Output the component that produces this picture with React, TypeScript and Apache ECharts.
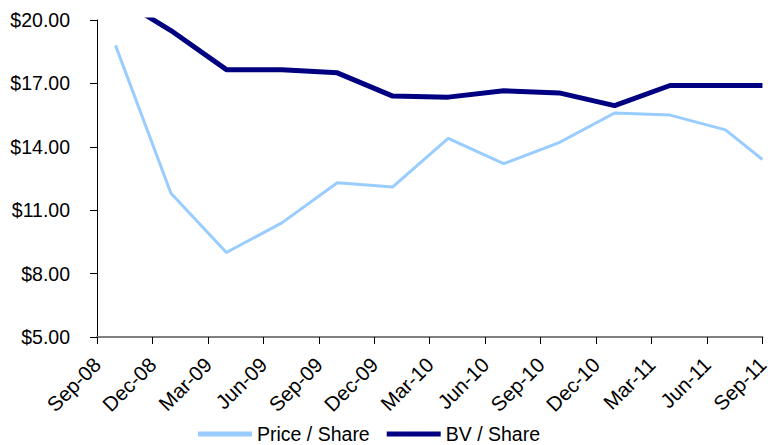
import React, { useEffect, useRef } from "react";
import * as echarts from "echarts";

const tickLabels = ["Sep-08","Dec-08","Mar-09","Jun-09","Sep-09","Dec-09","Mar-10","Jun-10","Sep-10","Dec-10","Mar-11","Jun-11","Sep-11"];
// x positions in months since Sep-08
const xMonths = [1, 4, 7, 10, 13, 16, 19, 22, 25, 28, 31, 34, 36];
const priceShare = [18.8, 11.8, 9.0, 10.4, 12.3, 12.1, 14.4, 13.2, 14.2, 15.6, 15.5, 14.8, 13.4];
const bvShare = [21.1, 19.5, 17.65, 17.65, 17.5, 16.4, 16.35, 16.65, 16.55, 15.95, 16.9, 16.9, 16.9];

const font = "'Liberation Sans', Arial, sans-serif";

export default function App() {
  const ref = useRef<HTMLDivElement>(null);
  useEffect(() => {
    const chart = echarts.init(ref.current!, null, { renderer: "svg" });
    chart.setOption({
      animation: false,
      grid: { left: 97, right: 4, top: 20, bottom: 108, containLabel: false },
      legend: {
        bottom: 1,
        left: 198,
        padding: 0,
        itemWidth: 54,
        itemHeight: 5,
        itemGap: 17,
        textStyle: { fontFamily: font, fontSize: 19.5, color: "#000" },
        data: [
          { name: "Price / Share", icon: "rect" },
          { name: "BV / Share", icon: "rect" },
        ],
      },
      xAxis: {
        type: "value",
        min: 0,
        max: 36,
        interval: 3,
        axisLine: { lineStyle: { color: "#808080", width: 2 } },
        axisTick: { show: true, length: 7, lineStyle: { color: "#000" } },
        splitLine: { show: false },
        axisLabel: {
          rotate: 45,
          fontFamily: font,
          fontSize: 20.5,
          color: "#000",
          margin: 24,
          formatter: (v: number) => tickLabels[Math.round(v / 3)] ?? "",
        },
      },
      yAxis: {
        type: "value",
        min: 5,
        max: 20,
        interval: 3,
        axisLine: { show: true, lineStyle: { color: "#000", width: 1 } },
        axisTick: { show: true, length: 7, lineStyle: { color: "#000" } },
        splitLine: { show: false },
        axisLabel: {
          fontFamily: font,
          fontSize: 19.5,
          color: "#000",
          margin: 27,
          formatter: (v: number) => "$" + v.toFixed(2),
        },
      },
      series: [
        {
          name: "Price / Share",
          type: "line",
          data: xMonths.map((x, i) => [x, priceShare[i]]),
          showSymbol: false,
          symbol: "none",
          lineStyle: { color: "#99CCFF", width: 3 },
          itemStyle: { color: "#99CCFF" },
          clip: true,
        },
        {
          name: "BV / Share",
          type: "line",
          data: xMonths.map((x, i) => [x, bvShare[i]]),
          showSymbol: false,
          symbol: "none",
          lineStyle: { color: "#000080", width: 5 },
          itemStyle: { color: "#000080" },
          clip: true,
        },
      ],
    });
    return () => chart.dispose();
  }, []);
  return <div ref={ref} style={{ width: 772, height: 445, position: "absolute", left: 0, top: 0 }} />;
}
